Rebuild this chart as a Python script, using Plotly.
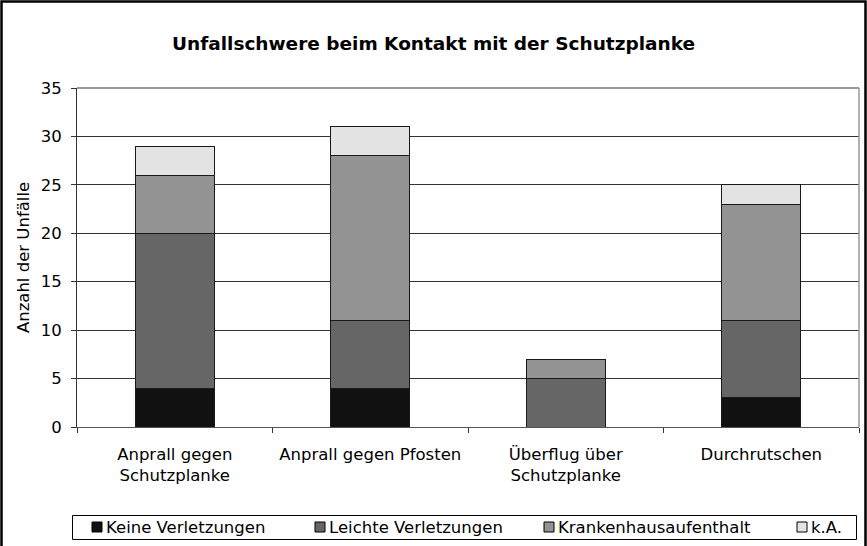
import plotly.graph_objects as go

categories = ["Anprall gegen<br>Schutzplanke", "Anprall gegen Pfosten", "Überflug über<br>Schutzplanke", "Durchrutschen"]
series_names = ["Keine Verletzungen", "Leichte Verletzungen", "Krankenhausaufenthalt", "k.A."]
keine = [4, 4, 0, 3]
leichte = [16, 7, 5, 8]
kranken = [6, 17, 2, 12]
ka = [3, 3, 0, 2]
series_values = [keine, leichte, kranken, ka]
colors = ["#111111", "#666666", "#939393", "#e3e3e3"]
y_ticks = [0, 5, 10, 15, 20, 25, 30, 35]

W, H = 867, 546
L, R, T, B = 77, 8, 88, 119
PW, PH = W - L - R, H - T - B
FONT = "DejaVu Sans, Verdana, sans-serif"
FS = 16.5

def px(x):
    return (x - L) / PW

def py(y):
    return (H - B - y) / PH

fig = go.Figure()
for name, vals, col in zip(series_names, series_values, colors):
    fig.add_trace(go.Bar(
        x=categories, y=vals, name=name,
        marker=dict(color=col, line=dict(color="#1a1a1a", width=1)),
        showlegend=False,
    ))

shapes = []
shapes.append(dict(type="line", xref="paper", yref="paper", x0=0, x1=1, y0=1, y1=1,
                   line=dict(color="#333333", width=1)))
shapes.append(dict(type="line", xref="paper", yref="paper", x0=1, x1=1, y0=0, y1=1,
                   line=dict(color="#999999", width=1.5)))
shapes.append(dict(type="rect", xref="paper", yref="paper",
                   x0=px(1.5), x1=px(865.5), y0=py(1.5), y1=py(560),
                   line=dict(color="#000000", width=2.5)))
shapes.append(dict(type="rect", xref="paper", yref="paper",
                   x0=px(72.5), x1=px(856.5), y0=py(515.5), y1=py(539.5),
                   line=dict(color="#000000", width=1), fillcolor="white"))

annotations = []
legend_sq_x = [92, 315, 544, 797]
for sx, name, col in zip(legend_sq_x, series_names, colors):
    shapes.append(dict(type="rect", xref="paper", yref="paper",
                       x0=px(sx), x1=px(sx + 10), y0=py(522), y1=py(532),
                       line=dict(color="#000000", width=1), fillcolor=col))
    annotations.append(dict(xref="paper", yref="paper", x=px(sx + 12), y=py(527.5),
                            text=name, showarrow=False, xanchor="left", yanchor="middle",
                            font=dict(family=FONT, size=FS, color="#000000")))

fig.update_layout(
    width=W, height=H,
    margin=dict(l=L, r=R, t=T, b=B, pad=0),
    paper_bgcolor="white", plot_bgcolor="white",
    barmode="stack", bargap=0.596,
    showlegend=False,
    title=dict(text="<b>Unfallschwere beim Kontakt mit der Schutzplanke</b>",
               x=0.5, xanchor="center", xref="container",
               y=1 - 44 / H, yanchor="middle", yref="container",
               font=dict(family=FONT, size=18.5, color="#000000")),
    font=dict(family=FONT, size=FS, color="#000000"),
    xaxis=dict(type="category", tickson="boundaries", ticks="outside", ticklen=5,
               tickcolor="#333333", showline=True, linecolor="#555555", linewidth=1,
               showgrid=False, ticklabelstandoff=12,
               tickfont=dict(size=FS, family=FONT, color="#000000")),
    yaxis=dict(range=[0, 35], tickvals=y_ticks, ticks="outside", ticklen=5,
               tickcolor="#333333", showline=True, linecolor="#333333", linewidth=1,
               showgrid=True, gridcolor="#333333", gridwidth=1, zeroline=False,
               ticklabelstandoff=6,
               tickfont=dict(size=FS, family=FONT, color="#000000"),
               title=dict(text="Anzahl der Unfälle", standoff=6,
                          font=dict(size=FS, family=FONT, color="#000000"))),
    shapes=shapes,
    annotations=annotations,
)

fig.write_html("out.html", config={"displayModeBar": False},
               post_script="document.body.style.margin='0';document.body.style.padding='0';")
